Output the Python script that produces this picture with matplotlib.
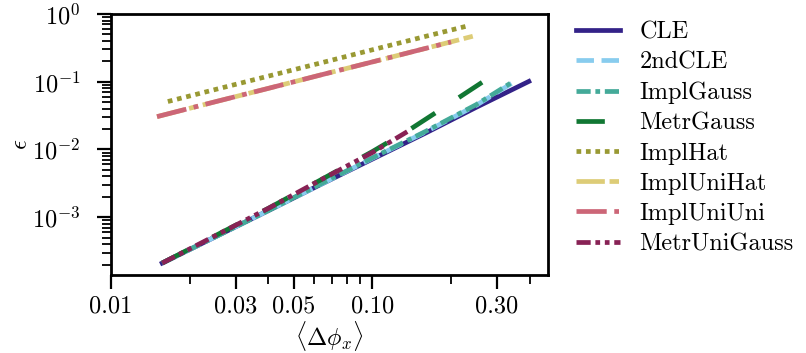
import matplotlib
matplotlib.use("Agg")
import matplotlib.pyplot as plt
from matplotlib.ticker import FixedLocator, FixedFormatter, LogLocator, NullFormatter

plt.rcParams.update({
    "font.family": "serif",
    "font.serif": ["cmr10"],
    "mathtext.fontset": "cm",
    "axes.formatter.use_mathtext": True,
    "font.size": 17.5,
    "axes.linewidth": 2.0,
})

# ---- data ----
x_cle = [0.0157, 0.025, 0.04, 0.063, 0.1, 0.16, 0.25, 0.397]
y_cle = [2.1e-4, 5.1e-4, 1.25e-3, 3.0e-3, 7.2e-3, 1.75e-2, 4.2e-2, 1.01e-1]

x_2nd = [0.0157, 0.025, 0.04, 0.063, 0.1, 0.16, 0.25, 0.342]
y_2nd = [2.1e-4, 5.1e-4, 1.25e-3, 3.0e-3, 7.4e-3, 1.82e-2, 4.5e-2, 9.5e-2]

x_igauss = [0.0157, 0.025, 0.04, 0.063, 0.1, 0.16, 0.25, 0.342]
y_igauss = [2.1e-4, 5.1e-4, 1.25e-3, 3.05e-3, 7.5e-3, 1.85e-2, 4.6e-2, 9.8e-2]

x_mgauss = [0.0157, 0.025, 0.04, 0.063, 0.1, 0.14, 0.19, 0.263]
y_mgauss = [2.1e-4, 5.3e-4, 1.35e-3, 3.5e-3, 9.3e-3, 2.0e-2, 4.3e-2, 9.8e-2]

x_ihat = [0.0165, 0.025, 0.04, 0.063, 0.1, 0.16, 0.229]
y_ihat = [0.051, 0.0766, 0.121, 0.188, 0.296, 0.468, 0.66]

x_iunihat = [0.015, 0.025, 0.04, 0.063, 0.1, 0.16, 0.252]
y_iunihat = [0.0305, 0.0505, 0.0798, 0.125, 0.196, 0.311, 0.488]

x_iuniuni = [0.015, 0.025, 0.04, 0.063, 0.1, 0.16, 0.2]
y_iuniuni = [0.0305, 0.0505, 0.0798, 0.125, 0.196, 0.311, 0.386]

x_muni = [0.0157, 0.025, 0.04, 0.063, 0.1, 0.136]
y_muni = [2.1e-4, 5.3e-4, 1.35e-3, 3.5e-3, 9.0e-3, 1.83e-2]

labels = ["CLE", "2ndCLE", "ImplGauss", "MetrGauss", "ImplHat",
          "ImplUniHat", "ImplUniUni", "MetrUniGauss"]
xtick_vals = [0.01, 0.03, 0.05, 0.10, 0.30]
xtick_labels = ["0.01", "0.03", "0.05", "0.10", "0.30"]

series = [(x_cle, y_cle), (x_2nd, y_2nd), (x_igauss, y_igauss),
          (x_mgauss, y_mgauss), (x_ihat, y_ihat), (x_iunihat, y_iunihat),
          (x_iuniuni, y_iuniuni), (x_muni, y_muni)]
colors = ["#332288", "#88CCEE", "#44AA99", "#117733", "#999933",
          "#DDCC77", "#CC6677", "#882255"]
styles = ["-", "--", (0, (3, 1, 1, 1)), (0, (6, 6)), (0, (1, 1)),
          (0, (6, 1, 2, 1)), "-.", (0, (3, 1, 1, 1, 1, 1))]

fig = plt.figure(figsize=(8.06, 3.53), dpi=100)
ax = fig.add_axes([111/806, 78/353, 437/806, 261/353])

for (xs, ys), lab, c, ls in zip(series, labels, colors, styles):
    ax.plot(xs, ys, color=c, linestyle=ls, linewidth=3.4, label=lab)

ax.set_xscale("log")
ax.set_yscale("log")
ax.set_xlim(0.01, 0.47)
ax.set_ylim(1.4e-4, 1.0)

ax.xaxis.set_major_locator(FixedLocator(xtick_vals))
ax.xaxis.set_major_formatter(FixedFormatter(xtick_labels))
ax.xaxis.set_minor_locator(LogLocator(base=10, subs=range(2, 10)))
ax.xaxis.set_minor_formatter(NullFormatter())
ax.yaxis.set_minor_locator(LogLocator(base=10, subs=range(2, 10)))
ax.yaxis.set_minor_formatter(NullFormatter())

ax.tick_params(which="major", direction="out", length=10, width=1.6)
ax.tick_params(which="minor", direction="out", length=6.5, width=1.3)
ax.tick_params(axis="x", which="major", pad=5)
ax.tick_params(axis="y", which="major", pad=12)

ax.set_xlabel(r"$\langle \Delta\phi_x \rangle$", labelpad=1)
ax.set_ylabel(r"$\epsilon$", labelpad=0)

ax.legend(loc="upper left", bbox_to_anchor=(1.015, 1.055), frameon=False,
          handlelength=1.8, handletextpad=0.8, labelspacing=0.33,
          borderpad=0.4)

fig.savefig("out.png", dpi=100)
